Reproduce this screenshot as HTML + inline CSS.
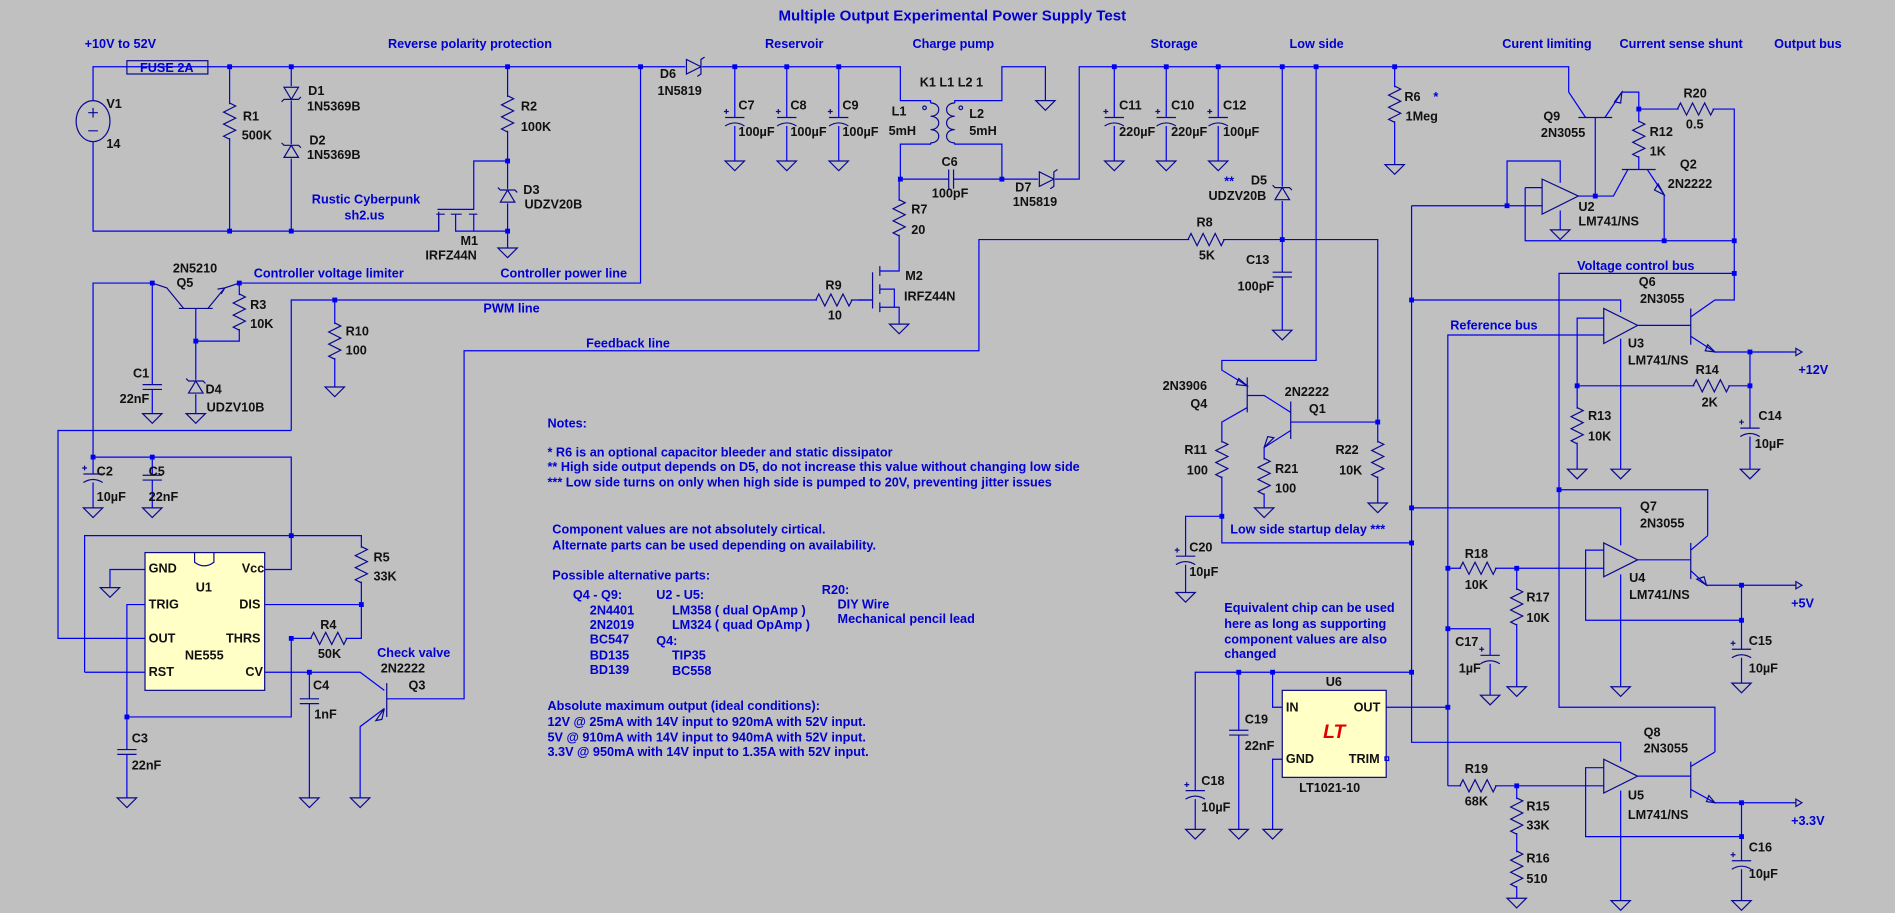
<!DOCTYPE html>
<html><head><meta charset="utf-8"><style>
html,body{margin:0;padding:0;background:#c0c0c0;}
svg{display:block}
text{font-family:"Liberation Sans",sans-serif;font-size:10.5px;font-weight:bold;dominant-baseline:central}
.b{fill:#0000d0}
.k{fill:#111}
.w{fill:none;stroke:#0000f0;stroke-width:1}
.s{fill:none;stroke:#0a0a90;stroke-width:1}
</style></head><body>
<svg width="1895" height="913" viewBox="0 0 1568 755" xmlns="http://www.w3.org/2000/svg">
<defs>
<g id="r"><rect x="-7" y="-14" width="14" height="28" fill="#c0c0c0"/><path class="s" d="M0,-15L5,-12.5L-5,-7.5L5,-2.5L-5,2.5L5,7.5L-5,12.5L0,15"/></g>
<g id="c"><rect x="-9" y="-2" width="18" height="4" fill="#c0c0c0"/><path class="s" d="M-8,-2H8M-8,2H8"/></g>
<g id="pc"><rect x="-9" y="-3" width="18" height="7" fill="#c0c0c0"/><path class="s" d="M-8,-3H8M-8,4Q0,-1 8,4M-9,-8h4M-7,-10v4"/></g>
<g id="zu"><rect x="-8" y="-6" width="16" height="12" fill="#c0c0c0"/><path class="s" d="M-6,5H6L0,-5ZM-8,-7L-6,-5H6L8,-3"/></g>
<g id="zd"><rect x="-8" y="-6" width="16" height="12" fill="#c0c0c0"/><path class="s" d="M-6,-5H6L0,5ZM-8,7L-6,5H6L8,3"/></g>
<g id="dr"><rect x="-7" y="-8" width="14" height="16" fill="#c0c0c0"/><path class="s" d="M-6,-6V6L6,0ZM9,-8L6,-6V6L3,8"/></g>
<g id="g"><path class="s" d="M-8,0H8L0,8Z"/></g>
<g id="j"><rect x="-2" y="-2" width="4" height="4" fill="#0000f0"/></g>
<g id="coil"><rect x="-6" y="0" width="12" height="33" fill="#c0c0c0"/><path class="s" d="M0,0C9,0 9,11 0,11C9,11 9,22 0,22C9,22 9,33 0,33"/></g>
<g id="coil2"><rect x="-6" y="0" width="12" height="33" fill="#c0c0c0"/><path class="s" d="M0,0C-9,0 -9,11 0,11C-9,11 -9,22 0,22C-9,22 -9,33 0,33"/></g>
<g id="out"><path class="s" d="M0,0H4M4,-3L9,0L4,3Z"/></g>
</defs>

<text class="b" x="788" y="13" text-anchor="middle" style="font-size:12.5px">Multiple Output Experimental Power Supply Test</text>
<text class="b" x="70" y="36">+10V to 52V</text>
<text class="b" x="321" y="36">Reverse polarity protection</text>
<text class="b" x="633" y="36">Reservoir</text>
<text class="b" x="755" y="36">Charge pump</text>
<text class="b" x="952" y="36">Storage</text>
<text class="b" x="1067" y="36">Low side</text>
<text class="b" x="1243" y="36">Curent limiting</text>
<text class="b" x="1340" y="36">Current sense shunt</text>
<text class="b" x="1468" y="36">Output bus</text>

<path class="w" d="M77,83V55H745V83H770V86M770,116V119H745V148H829M790,86V83H829V55H865V83M790,116V119H829V148H893V55H1298V76L1312,97"/>
<path class="w" d="M77,117V191H363V177M377,177V191H420M392,177V191M362,173H392V133H420"/>
<path class="w" d="M190,55V191M241,55V191M420,55V205"/>
<path class="w" d="M530,55V234H198M126,234H77V378M126,234V342M162,255V342M198,234V282H162"/>
<path class="w" d="M241,356V248H722M277,248V320M241,356H48V528H120"/>
<path class="w" d="M77,378V420M77,378H241V471H219M126,378V420M70,556V443H299V528H241M120,471H91V486M120,500H105V660M105,593H241V528M219,500H299M70,556H120M219,556H298L318,571M256,556V660"/>
<path class="w" d="M320,578H384V290H810V198H1140V349H1068M318,586L298,601V660"/>
<path class="w" d="M710,248H722M728,224H744V148M728,254H744V268M728,239H740V254"/>
<path class="w" d="M608,55V133M651,55V133M694,55V133M922,55V133M965,55V133M1008,55V133"/>
<path class="w" d="M1154,55V136M1061,55V273M1089,55V298H1011V306L1032,319M1032,327H1046L1068,341M1032,337L1011,349V449H1168M1011,427H981V490M1068,356L1046,370V420M1140,349V416"/>
<path class="w" d="M1328,97L1342,76H1356V140M1356,90H1435V248H1419L1399,262M1347,140L1335,162H1305M1320,97V162M1363,140L1377,161V199M1262,155H1276M1262,155V199H1435M1168,170H1276M1247,170V133H1291V151M1291,174V190M1168,170V614H1341V630"/>
<path class="w" d="M1435,226H1290V585H1419V622M1290,405H1413V443"/>
<path class="w" d="M1168,248H1341V258M1341,280V388M1355,269H1399M1399,278L1419,291H1482M1448,291V388M1327,263H1305V388M1305,319H1448M1327,277H1198V650"/>
<path class="w" d="M1168,420H1341V451M1341,475V568M1355,463H1399M1399,455L1413,443M1399,472L1412,484H1482M1441,484V565M1327,455H1312V513H1441M1198,470H1327M1255,470V568M1198,520H1233V575"/>
<path class="w" d="M989,686V556H1168M1053,556V585H1061M1147,585H1198M1061,628H1053V686M1025,556V686"/>
<path class="w" d="M1327,635H1312V692H1441M1198,650H1327M1255,650V743M1355,642H1399M1399,634L1419,622M1399,653L1419,664H1482M1441,664V745M1341,654V745"/>

<path class="s" d="M148,255H176M152,255L138,238L126,234M172,255L186,238L198,234M183,243l3,-5l-6,1"/>
<path class="s" d="M320,565V593M311,596l7,-10l-2,9z"/>
<path class="s" d="M361,177H368M373,177H382M388,177H395M363,175V191"/>
<path class="s" d="M722,225V255M728,220V228M728,235V243M728,250V258"/>
<path class="s" d="M1306,97H1334M1336,84l6,-8l-1,9z"/>
<path class="s" d="M1342,140H1370M1372,152l5,9l-8,-4z"/>
<path class="s" d="M1032,312V341M1068,332V363M1025,313l7,6l-9,-1zM1054,362l-8,8l3,-9z"/>
<path class="s" d="M1399,255V285M1411,290l8,1l-6,-6zM1399,449V479M1404,479l8,5l-2,-7zM1399,630V660M1412,663l7,1l-5,-6z"/>
<polygon class="s" points="1276,148 1306,162 1276,177"/>
<polygon class="s" points="1327,255 1355,269 1327,284"/>
<polygon class="s" points="1327,449 1355,463 1327,477"/>
<polygon class="s" points="1327,628 1355,642 1327,656"/>
<ellipse class="s" cx="77" cy="100" rx="14" ry="17" fill="#c0c0c0"/>
<path class="s" d="M73,93h8M77,89v8M73,108h8"/>
<rect x="105" y="50" width="67" height="11" fill="#c0c0c0" class="s"/>
<text class="b" x="138" y="56" text-anchor="middle">FUSE 2A</text>

<rect x="120" y="457" width="99" height="114" fill="#ffffc6" stroke="#0a0a90"/>
<path class="s" d="M161,457V465Q169,471 177,465V457"/>
<rect x="1061" y="571" width="86" height="72" fill="#ffffc6" stroke="#0a0a90"/>
<rect x="1146" y="626" width="3" height="3" fill="none" stroke="#0000f0"/>
<text x="1104" y="606" text-anchor="middle" style="fill:#e00000;font-size:16px;font-style:italic">LT</text>

<use href="#r" x="190" y="100"/><use href="#r" x="420" y="94"/><use href="#r" x="198" y="258"/>
<use href="#r" x="277" y="282"/><use href="#r" x="299" y="467"/><use href="#r" x="744" y="180"/>
<use href="#r" x="1154" y="86"/><use href="#r" x="1011" y="380"/><use href="#r" x="1046" y="394"/>
<use href="#r" x="1140" y="380"/><use href="#r" x="1356" y="115"/><use href="#r" x="1305" y="352"/>
<use href="#r" x="1255" y="502"/><use href="#r" x="1255" y="675"/><use href="#r" x="1255" y="719"/>
<use href="#r" transform="translate(272,528) rotate(90)"/>
<use href="#r" transform="translate(690,248) rotate(90)"/>
<use href="#r" transform="translate(998,198) rotate(90)"/>
<use href="#r" transform="translate(1403,90) rotate(90)"/>
<use href="#r" transform="translate(1416,319) rotate(90)"/>
<use href="#r" transform="translate(1223,470) rotate(90)"/>
<use href="#r" transform="translate(1223,650) rotate(90)"/>
<use href="#c" x="126" y="320"/><use href="#c" x="126" y="395"/><use href="#c" x="105" y="622"/>
<use href="#c" x="256" y="580"/><use href="#c" x="1061" y="227"/><use href="#c" x="1025" y="606"/>
<use href="#c" transform="translate(787,148) rotate(90)"/>
<use href="#pc" x="77" y="395"/><use href="#pc" x="608" y="100"/><use href="#pc" x="651" y="100"/><use href="#pc" x="694" y="100"/>
<use href="#pc" x="922" y="100"/><use href="#pc" x="965" y="100"/><use href="#pc" x="1008" y="100"/>
<use href="#pc" x="981" y="463"/><use href="#pc" x="1448" y="357"/><use href="#pc" x="1441" y="540"/>
<use href="#pc" x="1233" y="545"/><use href="#pc" x="989" y="657"/><use href="#pc" x="1441" y="715"/>
<use href="#zd" x="241" y="77"/><use href="#zu" x="241" y="125"/><use href="#zu" x="420" y="162"/>
<use href="#zu" x="162" y="320"/><use href="#zu" x="1061" y="160"/>
<use href="#dr" x="574" y="55"/><use href="#dr" x="866" y="148"/>
<use href="#coil" x="770" y="85"/><use href="#coil2" x="790" y="85"/>
<circle cx="765" cy="89" r="1.5" class="s"/><circle cx="795" cy="89" r="1.5" class="s"/>
<use href="#g" x="420" y="205"/><use href="#g" x="126" y="342"/><use href="#g" x="162" y="342"/><use href="#g" x="277" y="320"/>
<use href="#g" x="77" y="420"/><use href="#g" x="126" y="420"/><use href="#g" x="91" y="486"/><use href="#g" x="105" y="660"/>
<use href="#g" x="256" y="660"/><use href="#g" x="298" y="660"/><use href="#g" x="744" y="268"/><use href="#g" x="865" y="83"/>
<use href="#g" x="608" y="133"/><use href="#g" x="651" y="133"/><use href="#g" x="694" y="133"/>
<use href="#g" x="922" y="133"/><use href="#g" x="965" y="133"/><use href="#g" x="1008" y="133"/>
<use href="#g" x="1154" y="136"/><use href="#g" x="1061" y="273"/><use href="#g" x="981" y="490"/>
<use href="#g" x="1046" y="420"/><use href="#g" x="1140" y="416"/><use href="#g" x="1291" y="190"/>
<use href="#g" x="1341" y="388"/><use href="#g" x="1305" y="388"/><use href="#g" x="1448" y="388"/>
<use href="#g" x="1341" y="568"/><use href="#g" x="1255" y="568"/><use href="#g" x="1233" y="575"/><use href="#g" x="1441" y="565"/>
<use href="#g" x="989" y="686"/><use href="#g" x="1025" y="686"/><use href="#g" x="1053" y="686"/>
<use href="#g" x="1255" y="743"/><use href="#g" x="1341" y="745"/><use href="#g" x="1441" y="745"/>
<use href="#out" x="1482" y="291"/><use href="#out" x="1482" y="484"/><use href="#out" x="1482" y="664"/>

<g>
<use href="#j" x="190" y="55"/><use href="#j" x="241" y="55"/><use href="#j" x="420" y="55"/><use href="#j" x="530" y="55"/>
<use href="#j" x="190" y="191"/><use href="#j" x="241" y="191"/><use href="#j" x="420" y="191"/><use href="#j" x="420" y="133"/>
<use href="#j" x="126" y="234"/><use href="#j" x="198" y="234"/><use href="#j" x="162" y="282"/><use href="#j" x="277" y="248"/>
<use href="#j" x="77" y="378"/><use href="#j" x="126" y="378"/><use href="#j" x="241" y="443"/><use href="#j" x="299" y="500"/>
<use href="#j" x="241" y="528"/><use href="#j" x="105" y="593"/><use href="#j" x="256" y="556"/>
<use href="#j" x="608" y="55"/><use href="#j" x="651" y="55"/><use href="#j" x="694" y="55"/><use href="#j" x="745" y="148"/><use href="#j" x="829" y="148"/>
<use href="#j" x="922" y="55"/><use href="#j" x="965" y="55"/><use href="#j" x="1008" y="55"/><use href="#j" x="1061" y="55"/><use href="#j" x="1089" y="55"/><use href="#j" x="1154" y="55"/>
<use href="#j" x="1061" y="198"/><use href="#j" x="1140" y="349"/><use href="#j" x="1011" y="427"/><use href="#j" x="1168" y="449"/>
<use href="#j" x="1356" y="90"/><use href="#j" x="1320" y="162"/><use href="#j" x="1377" y="199"/><use href="#j" x="1435" y="199"/><use href="#j" x="1247" y="170"/>
<use href="#j" x="1435" y="226"/><use href="#j" x="1168" y="248"/><use href="#j" x="1448" y="291"/><use href="#j" x="1448" y="319"/><use href="#j" x="1305" y="319"/>
<use href="#j" x="1290" y="405"/><use href="#j" x="1168" y="420"/><use href="#j" x="1198" y="470"/><use href="#j" x="1255" y="470"/><use href="#j" x="1198" y="520"/>
<use href="#j" x="1441" y="484"/><use href="#j" x="1441" y="513"/><use href="#j" x="1025" y="556"/><use href="#j" x="1053" y="556"/><use href="#j" x="1168" y="556"/>
<use href="#j" x="1198" y="585"/><use href="#j" x="1255" y="650"/><use href="#j" x="1441" y="664"/><use href="#j" x="1441" y="692"/>
</g>

<g class="k">
<text x="88" y="86">V1</text><text x="88" y="119">14</text>
<text x="201" y="96">R1</text><text x="200" y="112">500K</text>
<text x="255" y="75">D1</text><text x="254" y="88">1N5369B</text>
<text x="256" y="116">D2</text><text x="254" y="128">1N5369B</text>
<text x="431" y="88">R2</text><text x="431" y="105">100K</text>
<text x="433" y="157">D3</text><text x="434" y="169">UDZV20B</text>
<text x="381" y="199">M1</text><text x="352" y="211">IRFZ44N</text>
<text x="143" y="222">2N5210</text><text x="146" y="234">Q5</text>
<text x="207" y="252">R3</text><text x="207" y="268">10K</text>
<text x="286" y="274">R10</text><text x="286" y="290">100</text>
<text x="110" y="309">C1</text><text x="99" y="330">22nF</text>
<text x="170" y="322">D4</text><text x="171" y="337">UDZV10B</text>
<text x="80" y="390">C2</text><text x="80" y="411">10µF</text>
<text x="123" y="390">C5</text><text x="123" y="411">22nF</text>
<text x="309" y="461">R5</text><text x="309" y="477">33K</text>
<text x="265" y="517">R4</text><text x="263" y="541">50K</text>
<text x="259" y="567">C4</text><text x="260" y="591">1nF</text>
<text x="315" y="553">2N2222</text><text x="338" y="567">Q3</text>
<text x="109" y="611">C3</text><text x="109" y="633">22nF</text>
<text x="123" y="470">GND</text><text x="200" y="470">Vcc</text><text x="162" y="486">U1</text>
<text x="123" y="500">TRIG</text><text x="198" y="500">DIS</text>
<text x="123" y="528">OUT</text><text x="187" y="528">THRS</text><text x="153" y="542">NE555</text>
<text x="123" y="556">RST</text><text x="203" y="556">CV</text>
<text x="546" y="61">D6</text><text x="544" y="75">1N5819</text>
<text x="611" y="87">C7</text><text x="611" y="109">100µF</text>
<text x="654" y="87">C8</text><text x="654" y="109">100µF</text>
<text x="697" y="87">C9</text><text x="697" y="109">100µF</text>
<text x="761" y="68">K1 L1 L2 1</text>
<text x="750" y="92" text-anchor="end">L1</text><text x="758" y="108" text-anchor="end">5mH</text>
<text x="802" y="94">L2</text><text x="802" y="108">5mH</text>
<text x="779" y="134">C6</text><text x="771" y="160">100pF</text>
<text x="840" y="155">D7</text><text x="838" y="167">1N5819</text>
<text x="754" y="173">R7</text><text x="754" y="190">20</text>
<text x="749" y="228">M2</text><text x="748" y="245">IRFZ44N</text>
<text x="683" y="236">R9</text><text x="685" y="261">10</text>
<text x="926" y="87">C11</text><text x="926" y="109">220µF</text>
<text x="969" y="87">C10</text><text x="969" y="109">220µF</text>
<text x="1012" y="87">C12</text><text x="1012" y="109">100µF</text>
<text x="1035" y="149">D5</text><text x="1000" y="162">UDZV20B</text>
<text x="1162" y="80">R6</text><text x="1163" y="96">1Meg</text>
<text x="990" y="184">R8</text><text x="992" y="211">5K</text>
<text x="1031" y="215">C13</text><text x="1024" y="237">100pF</text>
<text x="962" y="319">2N3906</text><text x="985" y="334">Q4</text>
<text x="1063" y="324">2N2222</text><text x="1083" y="338">Q1</text>
<text x="980" y="372">R11</text><text x="982" y="389">100</text>
<text x="1055" y="388">R21</text><text x="1055" y="404">100</text>
<text x="1105" y="372">R22</text><text x="1108" y="389">10K</text>
<text x="984" y="453">C20</text><text x="984" y="473">10µF</text>
<text x="1277" y="96">Q9</text><text x="1275" y="110">2N3055</text>
<text x="1365" y="109">R12</text><text x="1365" y="125">1K</text>
<text x="1393" y="77">R20</text><text x="1395" y="103">0.5</text>
<text x="1390" y="136">Q2</text><text x="1380" y="152">2N2222</text>
<text x="1306" y="171">U2</text><text x="1306" y="183">LM741/NS</text>
<text x="1356" y="233">Q6</text><text x="1357" y="247">2N3055</text>
<text x="1347" y="284">U3</text><text x="1347" y="298">LM741/NS</text>
<text x="1403" y="306">R14</text><text x="1408" y="333">2K</text>
<text x="1314" y="344">R13</text><text x="1314" y="361">10K</text>
<text x="1455" y="344">C14</text><text x="1452" y="367">10µF</text>
<text x="1357" y="419">Q7</text><text x="1357" y="433">2N3055</text>
<text x="1348" y="478">U4</text><text x="1348" y="492">LM741/NS</text>
<text x="1212" y="458">R18</text><text x="1212" y="484">10K</text>
<text x="1263" y="494">R17</text><text x="1263" y="511">10K</text>
<text x="1204" y="531">C17</text><text x="1207" y="553">1µF</text>
<text x="1447" y="530">C15</text><text x="1447" y="553">10µF</text>
<text x="1097" y="564">U6</text><text x="1064" y="585">IN</text><text x="1120" y="585">OUT</text>
<text x="1064" y="628">GND</text><text x="1116" y="628">TRIM</text><text x="1075" y="652">LT1021-10</text>
<text x="1030" y="595">C19</text><text x="1030" y="617">22nF</text>
<text x="994" y="646">C18</text><text x="994" y="668">10µF</text>
<text x="1360" y="606">Q8</text><text x="1360" y="619">2N3055</text>
<text x="1347" y="658">U5</text><text x="1347" y="674">LM741/NS</text>
<text x="1212" y="636">R19</text><text x="1212" y="663">68K</text>
<text x="1263" y="667">R15</text><text x="1263" y="683">33K</text>
<text x="1263" y="710">R16</text><text x="1263" y="727">510</text>
<text x="1447" y="701">C16</text><text x="1447" y="723">10µF</text>
</g>

<g class="b">
<text x="258" y="165">Rustic Cyberpunk</text><text x="285" y="178">sh2.us</text>
<text x="210" y="226">Controller voltage limiter</text>
<text x="414" y="226">Controller power line</text>
<text x="400" y="255">PWM line</text>
<text x="485" y="284">Feedback line</text>
<text x="312" y="540">Check valve</text>
<text x="1186" y="80">*</text><text x="1013" y="150">**</text>
<text x="1018" y="438">Low side startup delay ***</text>
<text x="1305" y="220">Voltage control bus</text>
<text x="1200" y="269">Reference bus</text>
<text x="1488" y="306">+12V</text><text x="1482" y="499">+5V</text><text x="1482" y="679">+3.3V</text>
<text x="1013" y="503">Equivalent chip can be used</text>
<text x="1013" y="516">here as long as supporting</text>
<text x="1013" y="529">component values are also</text>
<text x="1013" y="541">changed</text>
<text x="453" y="350">Notes:</text>
<text x="453" y="374">* R6 is an optional capacitor bleeder and static dissipator</text>
<text x="453" y="386">** High side output depends on D5, do not increase this value without changing low side</text>
<text x="453" y="399">*** Low side turns on only when high side is pumped to 20V, preventing jitter issues</text>
<text x="457" y="438">Component values are not absolutely cirtical.</text>
<text x="457" y="451">Alternate parts can be used depending on availability.</text>
<text x="457" y="476">Possible alternative parts:</text>
<text x="474" y="492">Q4 - Q9:</text><text x="488" y="505">2N4401</text><text x="488" y="517">2N2019</text>
<text x="488" y="529">BC547</text><text x="488" y="542">BD135</text><text x="488" y="554">BD139</text>
<text x="543" y="492">U2 - U5:</text><text x="556" y="505">LM358 ( dual OpAmp )</text><text x="556" y="517">LM324 ( quad OpAmp )</text>
<text x="543" y="530">Q4:</text><text x="556" y="542">TIP35</text><text x="556" y="555">BC558</text>
<text x="680" y="488">R20:</text><text x="693" y="500">DIY Wire</text><text x="693" y="512">Mechanical pencil lead</text>
<text x="453" y="584">Absolute maximum output (ideal conditions):</text>
<text x="453" y="597">12V @ 25mA with 14V input to 920mA with 52V input.</text>
<text x="453" y="610">5V @ 910mA with 14V input to 940mA with 52V input.</text>
<text x="453" y="622">3.3V @ 950mA with 14V input to 1.35A with 52V input.</text>
</g>
</svg>
</body></html>
